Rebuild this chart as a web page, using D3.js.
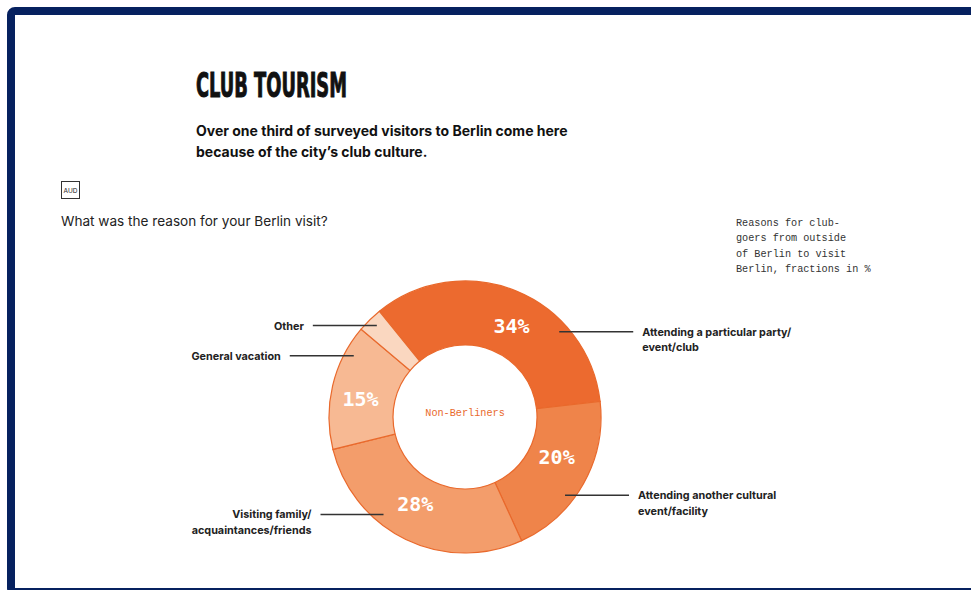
<!DOCTYPE html>
<html>
<head>
<meta charset="utf-8">
<script src="https://cdn.jsdelivr.net/npm/d3@7"></script>
<style>
  html, body { margin: 0; padding: 0; background: #fff; }
  svg { display: block; }
</style>
</head>
<body>
<div id="chart"></div>
<script>
// data, clockwise from the upper left
var categories = ["Attending a particular party/event/club", "Attending another cultural event/facility",
                  "Visiting family/acquaintances/friends", "General vacation", "Other"];
var values = [34, 20, 28, 15, 3];
var pctLabels = ["34%", "20%", "28%", "15%", ""];
var labelLines = [
  ["Attending a particular party/", "event/club"],
  ["Attending another cultural", "event/facility"],
  ["Visiting family/", "acquaintances/friends"],
  ["General vacation"],
  ["Other"]
];
var colors = ["#ec6a2f", "#ef844a", "#f39d6b", "#f7b993", "#fad7c0"];

var width = 971, height = 590;
var cx = 465, cy = 417, outerR = 136, innerR = 72;

var svg = d3.select("#chart").append("svg")
    .attr("width", width).attr("height", height);

// frame
svg.append("rect")
    .attr("x", 11).attr("y", 11).attr("width", 1000).attr("height", 581)
    .attr("rx", 4)
    .attr("fill", "none").attr("stroke", "#06215f").attr("stroke-width", 8);

// title
svg.append("text")
    .attr("x", 196).attr("y", 97)
    .attr("font-family", "'DejaVu Sans Condensed', 'DejaVu Sans', sans-serif")
    .attr("font-weight", 900).attr("font-size", 34)
    .attr("textLength", 151).attr("lengthAdjust", "spacingAndGlyphs")
    .attr("fill", "#111").attr("stroke", "#111").attr("stroke-width", 1)
    .text("CLUB TOURISM");

var sub = ["Over one third of surveyed visitors to Berlin come here", "because of the city\u2019s club culture."];
svg.selectAll(".sub").data(sub).enter().append("text")
    .attr("class", "sub")
    .attr("x", 196).attr("y", function(d, i) { return 136 + i * 21; })
    .attr("font-family", "Inter, 'Noto Sans', sans-serif")
    .attr("font-weight", 700).attr("font-size", 14)
    .attr("fill", "#111")
    .text(function(d) { return d; });

// AUD tag
svg.append("rect")
    .attr("x", 61.5).attr("y", 181.5).attr("width", 18).attr("height", 17)
    .attr("fill", "#fff").attr("stroke", "#333").attr("stroke-width", 1);
svg.append("text")
    .attr("x", 70.5).attr("y", 193)
    .attr("text-anchor", "middle")
    .attr("font-family", "Inter, sans-serif").attr("font-size", 6.5)
    .attr("fill", "#222")
    .text("AUD");

svg.append("text")
    .attr("x", 61).attr("y", 226)
    .attr("font-family", "Inter, 'Noto Sans', sans-serif")
    .attr("font-size", 13.6).attr("fill", "#222")
    .text("What was the reason for your Berlin visit?");

// note top right
var note = ["Reasons for club-", "goers from outside", "of Berlin to visit", "Berlin, fractions in %"];
svg.selectAll(".note").data(note).enter().append("text")
    .attr("class", "note")
    .attr("x", 736).attr("y", function(d, i) { return 226 + i * 15.3; })
    .attr("font-family", "'Liberation Mono', 'DejaVu Sans Mono', monospace")
    .attr("font-size", 10.2).attr("fill", "#333")
    .text(function(d) { return d; });

// donut
var pie = d3.pie().sort(null)
    .startAngle(-39 * Math.PI / 180)
    .endAngle(-39 * Math.PI / 180 + 2 * Math.PI);
var arcs = pie(values);
var arc = d3.arc().innerRadius(innerR).outerRadius(outerR);

var g = svg.append("g").attr("transform", "translate(" + cx + "," + cy + ")");

g.selectAll(".slice").data(arcs).enter().append("path")
    .attr("class", "slice")
    .attr("d", arc)
    .attr("fill", function(d, i) { return colors[i]; })
    .attr("stroke", "#e9692c").attr("stroke-width", 1.2);

// where within each slice the % label and the leader anchor sit (0 = start, 1 = end)
var pctPlace = [{ f: 0.54, r: 102 }, { f: 0.42, r: 100 }, { f: 0.54, r: 100 }, { f: 0.44, r: 106 }, { f: 0.5, r: 104 }];
var leaders = [
  { f: 0.71, side: 1, len: 74 },
  { f: 0.62, side: 1, len: 64 },
  { f: 0.64, side: -1, len: 63 },
  { f: 0.79, side: -1, len: 64 },
  { f: 0.54, side: -1, len: 64 }
];
function polar(d, f, r) {
  var a = d.startAngle + (d.endAngle - d.startAngle) * f;
  return [Math.sin(a) * r, -Math.cos(a) * r];
}

g.selectAll(".pct").data(arcs).enter().append("text")
    .attr("class", "pct")
    .attr("transform", function(d, i) { return "translate(" + polar(d, pctPlace[i].f, pctPlace[i].r) + ")"; })
    .attr("text-anchor", "middle").attr("dy", "0.36em")
    .attr("font-family", "'DejaVu Sans Mono', monospace")
    .attr("font-weight", 700).attr("font-size", 20)
    .attr("fill", "#fff")
    .text(function(d, i) { return pctLabels[i]; });

g.append("text")
    .attr("text-anchor", "middle").attr("y", -1)
    .attr("font-family", "'Liberation Mono', 'DejaVu Sans Mono', monospace")
    .attr("font-size", 10.2).attr("fill", "#e9692c")
    .text("Non-Berliners");

var leaderPos = arcs.map(function(d, i) { return polar(d, leaders[i].f, 127); });

g.selectAll(".leader").data(arcs).enter().append("line")
    .attr("class", "leader")
    .attr("x1", function(d, i) { return leaderPos[i][0]; })
    .attr("y1", function(d, i) { return leaderPos[i][1]; })
    .attr("x2", function(d, i) { return leaderPos[i][0] + leaders[i].side * leaders[i].len; })
    .attr("y2", function(d, i) { return leaderPos[i][1]; })
    .attr("stroke", "#333").attr("stroke-width", 1.5);

g.selectAll(".cat").data(arcs).enter().append("text")
    .attr("class", "cat")
    .attr("x", function(d, i) { return leaderPos[i][0] + leaders[i].side * (leaders[i].len + 9); })
    .attr("y", function(d, i) { return leaderPos[i][1] + 4; })
    .attr("text-anchor", function(d, i) { return leaders[i].side > 0 ? "start" : "end"; })
    .attr("font-family", "Inter, 'Noto Sans', sans-serif")
    .attr("font-weight", 700).attr("font-size", 10.8)
    .attr("fill", "#222")
    .each(function(d, i) {
      var t = d3.select(this);
      labelLines[i].forEach(function(line, j) {
        t.append("tspan")
          .attr("x", t.attr("x"))
          .attr("dy", j === 0 ? 0 : 15.5)
          .text(line);
      });
    });
</script>
</body>
</html>
